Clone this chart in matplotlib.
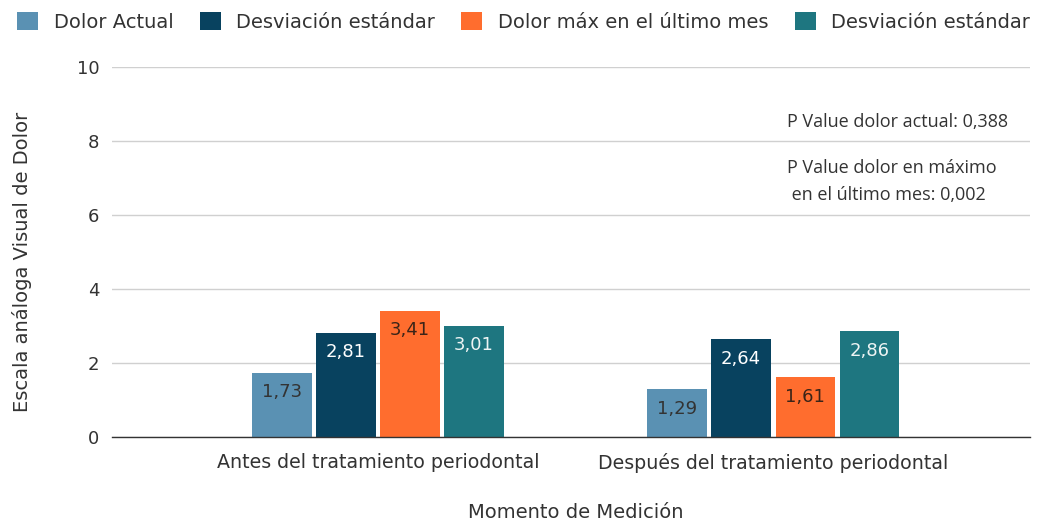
import numpy as np
import matplotlib.pyplot as plt

plt.rcParams['font.family'] = ['DejaVu Sans']

# datos
categorias = ["Antes del tratamiento periodontal", "Después del tratamiento periodontal"]
series = ["Dolor Actual", "Desviación estándar", "Dolor máx en el último mes", "Desviación estándar"]
dolor_actual = [1.73, 1.29]
desv_actual = [2.81, 2.64]
dolor_max = [3.41, 1.61]
desv_max = [3.01, 2.86]
valores = [dolor_actual, desv_actual, dolor_max, desv_max]

colores = ["#5a91b3", "#08425f", "#ff6d2e", "#1e7680"]
color_texto = ["#333333", "#ffffff", "#3a2418", "#eef4f4"]

fig = plt.figure(figsize=(10.44, 5.30), dpi=100)
ax = fig.add_axes([112/1044, 1-437/530, (1030-112)/1044, (437-67)/530])

x = np.arange(len(categorias))
ancho = 0.15
paso = 0.162
for i, (nombre, vals) in enumerate(zip(series, valores)):
    pos = x + (i - 1.5)*paso
    barras = ax.bar(pos, vals, ancho, color=colores[i], label=nombre, zorder=3)
    for b, v in zip(barras, vals):
        ax.annotate(("%.2f" % v).replace(".", ","), (b.get_x() + b.get_width()/2, v),
                    xytext=(0, -14), textcoords="offset points", ha="center", va="center",
                    fontsize=13, color=color_texto[i], zorder=4)

ax.set_xlim(-0.673, 1.65)
ax.set_ylim(0, 10)
ax.set_yticks([0, 2, 4, 6, 8, 10])
ax.set_xticks(x)
ax.set_xticklabels(categorias, fontsize=13.7, color="#333333")
ax.tick_params(axis="y", labelsize=13, labelcolor="#333333", length=0, pad=9)
ax.tick_params(axis="x", length=0, pad=11.5)
ax.grid(axis="y", color="#d0d0d0", linewidth=1, zorder=0)
for s in ["top", "right", "left"]:
    ax.spines[s].set_visible(False)
ax.spines["bottom"].set_color("#333333")
ax.spines["bottom"].set_linewidth(1)
ax.spines["bottom"].set_zorder(5)

fig.text(22/1044, 1-262/530, "Escala análoga Visual de Dolor", rotation=90,
         ha="center", va="center", fontsize=14, color="#333333")
fig.text(576/1044, 1-513/530, "Momento de Medición", ha="center", va="center",
         fontsize=14, color="#333333")

# anotaciones
fig.text(787/1044, 1-122/530, "P Value dolor actual: 0,388", ha="left", va="center",
         fontsize=13, color="#333333", family=["Open Sans", "DejaVu Sans"])
fig.text(787/1044, 1-181.5/530, "P Value dolor en máximo\n en el último mes: 0,002", ha="left",
         va="center", fontsize=13, color="#333333", linespacing=1.6,
         family=["Open Sans", "DejaVu Sans"])

leg = fig.legend(loc="upper left", bbox_to_anchor=(17/1044, 1-12/530), ncol=4, frameon=False,
                 fontsize=14, handlelength=1.08, handleheight=1.08, columnspacing=1.35,
                 handletextpad=0.8, borderpad=0, borderaxespad=0, labelcolor="#333333")

fig.savefig("out.png", dpi=100, facecolor="white")
